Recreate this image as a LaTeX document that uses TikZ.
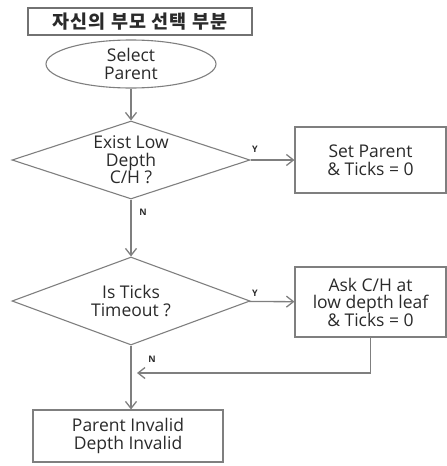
\documentclass[tikz,border=0pt]{standalone}
\usepackage{fontspec}
\setmainfont{Open Sans}
\newfontfamily\krfont[LetterSpace=6]{Noto Sans CJK KR}
\usetikzlibrary{shapes.geometric,arrows.meta}
\definecolor{ln}{HTML}{7F7F7F}
\definecolor{tx}{HTML}{2A2A2A}
\tikzset{
  shp/.style={draw=ln, line width=1.1pt, text=tx, align=center, inner sep=0pt,
    font=\fontsize{17.5}{17.5}\selectfont},
  boxx/.style={shp, rectangle},
  decis/.style={shp, diamond, aspect=3},
  term/.style={shp, ellipse},
  conn/.style={draw=ln, line width=1.3pt, -{Straight Barb[length=7pt,width=11pt]}},
  lbl/.style={text=tx, font=\fontsize{9}{10}\selectfont\bfseries, inner sep=0pt}
}
\begin{document}
\begin{tikzpicture}[x=1pt,y=-1pt]
\useasboundingbox (0,0) rectangle (447,466);
\node[boxx, minimum width=224pt, minimum height=27pt, draw=ln!90!black, font=\krfont\fontsize{18.5}{20}\selectfont\bfseries] (title) at (140,21.5) {자신의 부모 선택 부분};
\node[term, minimum width=170pt, minimum height=48pt] (sel) at (131,64) {Select\\Parent};
\node[decis, minimum width=238pt, minimum height=78pt] (d1) at (131,160) {Exist Low\\Depth\\C/H ?};
\node[boxx, minimum width=151pt, minimum height=66pt] (b1) at (370.5,160) {Set Parent\\\& Ticks = 0};
\node[decis, minimum width=238pt, minimum height=88pt] (d2) at (131,301) {Is Ticks\\Timeout ?};
\node[boxx, minimum width=151pt, minimum height=70pt] (b2) at (370.5,302) {Ask C/H at\\low depth leaf\\\& Ticks = 0};
\node[boxx, minimum width=190pt, minimum height=52pt] (b3) at (128,436) {Parent Invalid\\Depth Invalid};
\coordinate (fb) at (137,373);
\draw[conn] (sel) -- (d1);
\draw[conn] (d1) -- (b1);
\draw[conn] (d1) -- (d2);
\draw[conn] (d2) -- (b2);
\draw[conn] (d2.south) -- (d2.south |- b3.north);
\draw[conn] (b2.south) |- (fb);
\node[lbl] (y1) at (255,149) {Y};
\node[lbl] (y2) at (255,293) {Y};
\node[lbl] (n1) at (143,212) {N};
\node[lbl] (n2) at (152,359) {N};
\end{tikzpicture}
\end{document}
